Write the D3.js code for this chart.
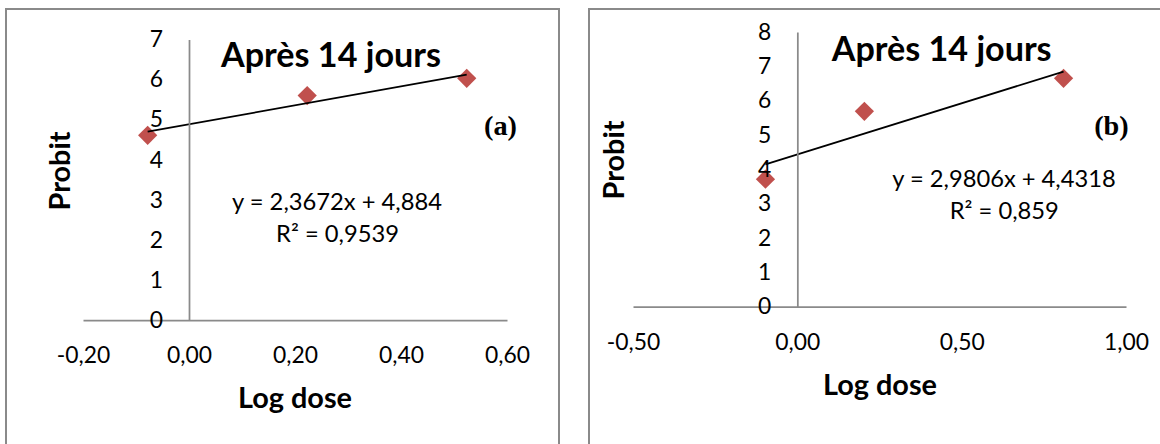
<!DOCTYPE html>
<html><head><meta charset="utf-8">
<script src="https://cdn.jsdelivr.net/npm/d3@7"></script>
<style>body{margin:0;background:#fff} svg{display:block}</style>
</head><body>
<svg id="c" width="1160" height="444"></svg>
<script>
// ---------- data ----------
const titleText = "Après 14 jours";
const xLabel = "Log dose";
const yLabel = "Probit";
const panelTags = ["(a)", "(b)"];

const xTicksA = [-0.2, 0, 0.2, 0.4, 0.6];
const yTicksA = [0, 1, 2, 3, 4, 5, 6, 7];
const logDoseA = [-0.078, 0.223, 0.524];
const probitA = [4.61, 5.60, 6.03];
const slopeA = 2.3672, interceptA = 4.884, r2A = 0.9539;

const xTicksB = [-0.5, 0, 0.5, 1.0];
const yTicksB = [0, 1, 2, 3, 4, 5, 6, 7, 8];
const logDoseB = [-0.097, 0.204, 0.81];
const probitB = [3.71, 5.69, 6.65];
const slopeB = 2.9806, interceptB = 4.4318, r2B = 0.859;

// ---------- helpers ----------
const loc = d3.formatLocale({decimal: ",", thousands: " ", grouping: [3], currency: ["", ""], minus: "-"});
const fmt2 = loc.format(".2f");
const num = v => String(v).replace(".", ",");
const SANS = "Lato, 'Open Sans', sans-serif";
const SERIF = "'Liberation Serif', 'DejaVu Serif', serif";
const GRAY = "#8a8a8a";

const svg = d3.select("#c");

function fitSize(text, weight, family, target) {
  const t = svg.append("text").text(text).style("font-family", family)
    .style("font-weight", weight).style("font-size", "100px");
  const w = t.node().getComputedTextLength();
  t.remove();
  return 100 * target / w;
}

const tickFS = fitSize("0,00", 400, SANS, 45);
const titleFS = fitSize(titleText, 700, SANS, 220);
const axTitleFS = fitSize(xLabel, 700, SANS, 114);
const eqFS = fitSize("y = 2,3672x + 4,884", 400, SANS, 210);
const tagFS = fitSize("(a)", 700, SERIF, 33);

// ---------- panels ----------
const panels = [
  {xTicks: xTicksA, yTicks: yTicksA, xs: logDoseA, ys: probitA, slope: slopeA, icpt: interceptA, r2: r2A, tag: panelTags[0],
   x0: 83, x1: 507, yBot: 320, yTop: 39.5, box: [6, 9, 553, 460],
   title: [331, 66.7], tagPos: [500.5, 135], eq: [337, 210], r2Pos: [337.5, 241.7],
   yl: [70, 171], xl: [295, 408]},
  {xTicks: xTicksB, yTicks: yTicksB, xs: logDoseB, ys: probitB, slope: slopeB, icpt: interceptB, r2: r2B, tag: panelTags[1],
   x0: 633, x1: 1126, yBot: 306.5, yTop: 32, box: [589, 9, 600, 460],
   title: [941.7, 60.7], tagPos: [1111.5, 135], eq: [1004, 186.7], r2Pos: [1004.3, 219.3],
   yl: [624, 160], xl: [880, 395]}
];

panels.forEach(p => {
  const g = svg.append("g");
  g.append("rect").attr("x", p.box[0]).attr("y", p.box[1]).attr("width", p.box[2]).attr("height", p.box[3])
    .attr("fill", "#fff").attr("stroke", GRAY).attr("stroke-width", 2);

  const x = d3.scaleLinear().domain(d3.extent(p.xTicks)).range([p.x0, p.x1]);
  const y = d3.scaleLinear().domain(d3.extent(p.yTicks)).range([p.yBot, p.yTop]);

  // axes
  const ax = g.append("g").attr("transform", `translate(0,${y(0)})`)
    .call(d3.axisBottom(x).tickValues(p.xTicks).tickSize(0).tickFormat(fmt2));
  ax.select(".domain").attr("stroke", GRAY).attr("stroke-width", 1.75);
  ax.selectAll("text").attr("y", 43).attr("dy", 0).style("font-family", SANS)
    .style("font-size", tickFS + "px").attr("fill", "#000");

  const ay = g.append("g").attr("transform", `translate(${x(0)},0)`)
    .call(d3.axisLeft(y).tickValues(p.yTicks).tickSize(0).tickPadding(26).tickFormat(d3.format("d")));
  ay.select(".domain").attr("stroke", GRAY).attr("stroke-width", 1.75);
  ay.selectAll("text").style("font-family", SANS).style("font-size", tickFS + "px").attr("fill", "#000");

  // points
  g.selectAll("path.pt").data(d3.zip(p.xs, p.ys)).join("path").attr("class", "pt")
    .attr("d", d3.symbol(d3.symbolSquare, 185)())
    .attr("transform", d => `translate(${x(d[0])},${y(d[1])}) rotate(45)`)
    .attr("fill", "#C0504D");

  // trend line
  const ext = d3.extent(p.xs);
  g.append("path").datum(ext)
    .attr("d", d3.line().x(d => x(d)).y(d => y(p.slope * d + p.icpt)))
    .attr("stroke", "#000").attr("stroke-width", 1.75).attr("fill", "none");

  // y labels on top (as in reference)
  ay.raise();

  // texts
  g.append("text").attr("x", p.title[0]).attr("y", p.title[1]).attr("text-anchor", "middle")
    .style("font-family", SANS).style("font-weight", 700).style("font-size", titleFS + "px").text(titleText);
  g.append("text").attr("x", p.tagPos[0]).attr("y", p.tagPos[1]).attr("text-anchor", "middle")
    .style("font-family", SERIF).style("font-weight", 700).style("font-size", tagFS + "px").text(p.tag);
  g.append("text").attr("x", p.eq[0]).attr("y", p.eq[1]).attr("text-anchor", "middle")
    .style("font-family", SANS).style("font-size", eqFS + "px")
    .text(`y = ${num(p.slope)}x + ${num(p.icpt)}`);
  g.append("text").attr("x", p.r2Pos[0]).attr("y", p.r2Pos[1]).attr("text-anchor", "middle")
    .style("font-family", SANS).style("font-size", eqFS + "px")
    .text(`R² = ${num(p.r2)}`);
  g.append("text").attr("transform", `translate(${p.yl[0]},${p.yl[1]}) rotate(-90)`).attr("text-anchor", "middle")
    .style("font-family", SANS).style("font-weight", 700).style("font-size", axTitleFS + "px").text(yLabel);
  g.append("text").attr("x", p.xl[0]).attr("y", p.xl[1]).attr("text-anchor", "middle")
    .style("font-family", SANS).style("font-weight", 700).style("font-size", axTitleFS + "px").text(xLabel);
});
</script>
</body></html>
